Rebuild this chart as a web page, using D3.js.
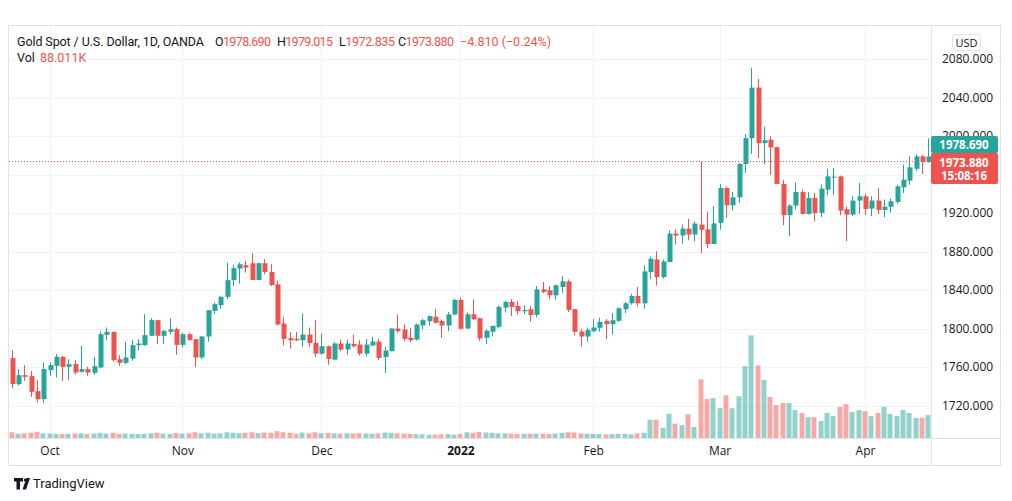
<!DOCTYPE html>
<html><head><meta charset="utf-8">
<script src="https://cdn.jsdelivr.net/npm/d3@7"></script>
<style>
body{margin:0;background:#fff;}
svg{display:block;font-family:"Open Sans","Noto Sans",sans-serif;}
</style>
</head><body>
<svg id="chart" width="1012" height="501"></svg>
<script>
// ---- data (daily bars, Sep 23 2021 .. Apr 14 2022) ----
const opens = [1769.2,1742.2,1751.5,1750.5,1734.9,1726.6,1756.7,1761.2,1770.6,1760.2,1763.0,1755.0,1757.8,1754.0,1759.5,1793.4,1796.5,1768.1,1764.3,1768.8,1782.7,1782.7,1792.4,1808.7,1792.4,1796.5,1799.3,1783.0,1794.1,1788.9,1769.9,1791.7,1818.3,1824.2,1832.9,1850.2,1862.3,1865.7,1867.8,1850.4,1867.8,1858.8,1845.9,1805.2,1789.9,1789.2,1787.8,1793.7,1785.0,1773.9,1781.6,1767.7,1784.4,1778.1,1784.0,1783.3,1773.9,1782.3,1786.4,1770.4,1776.4,1800.0,1799.0,1790.3,1788.5,1803.1,1807.7,1812.2,1807.7,1803.1,1814.6,1829.6,1800.0,1814.8,1810.7,1790.3,1796.6,1801.7,1821.7,1827.6,1823.4,1817.9,1820.0,1814.1,1840.7,1839.7,1834.5,1843.1,1849.0,1820.0,1796.9,1791.7,1797.2,1800.7,1808.0,1804.5,1808.0,1820.0,1826.2,1833.8,1826.2,1858.6,1871.7,1853.4,1869.0,1898.6,1896.6,1903.8,1897.6,1908.0,1903.0,1887.8,1909.7,1946.0,1928.0,1936.3,1970.9,1997.8,2050.3,1992.6,1996.1,1988.5,1950.1,1917.7,1927.7,1941.8,1919.0,1935.6,1920.1,1944.3,1956.7,1958.1,1923.9,1918.3,1932.9,1937.4,1924.6,1932.9,1923.2,1926.5,1931.5,1946.7,1953.6,1966.0,1978.8,1972.9];
const highs = [1777.5,1757.8,1761.9,1755.7,1746.3,1764.7,1764.7,1773.3,1771.6,1768.0,1767.1,1782.0,1760.2,1770.6,1796.9,1801.0,1796.5,1772.3,1786.2,1788.2,1788.9,1814.9,1810.7,1808.7,1798.3,1810.7,1801.0,1795.8,1795.8,1788.9,1792.4,1819.0,1827.0,1834.0,1868.6,1866.1,1868.5,1870.3,1878.3,1868.5,1872.0,1866.8,1849.4,1812.2,1796.2,1796.2,1815.6,1801.0,1809.0,1794.8,1782.3,1785.8,1788.5,1788.5,1793.7,1787.8,1789.2,1791.3,1789.2,1780.9,1800.0,1814.6,1804.2,1800.7,1805.2,1810.1,1813.6,1820.5,1809.4,1817.4,1831.0,1832.0,1816.6,1830.3,1811.4,1799.3,1802.8,1824.1,1828.6,1830.3,1828.6,1824.1,1823.4,1844.1,1848.3,1844.1,1845.9,1854.5,1851.0,1820.7,1799.3,1801.0,1809.7,1811.4,1809.7,1815.9,1821.7,1827.6,1836.2,1843.1,1865.5,1874.5,1880.3,1871.7,1902.1,1902.8,1907.9,1914.1,1911.4,1973.3,1921.4,1927.3,1950.1,1947.7,1941.8,1971.9,2001.9,2071.0,2059.3,2009.9,1999.5,1988.5,1954.6,1929.4,1951.9,1944.3,1941.8,1940.8,1949.4,1966.0,1966.7,1958.8,1927.0,1937.4,1951.2,1939.8,1937.4,1946.0,1934.0,1935.0,1949.4,1970.2,1978.8,1981.2,1980.5,1997.6];
const lows = [1738.0,1740.8,1745.6,1729.0,1723.1,1722.4,1750.8,1749.1,1745.6,1746.3,1752.5,1754.3,1750.8,1752.0,1758.8,1787.9,1765.7,1761.2,1763.0,1766.4,1777.5,1782.0,1792.4,1783.7,1783.7,1794.1,1772.7,1780.3,1787.2,1760.2,1768.1,1786.5,1814.9,1820.8,1830.5,1844.3,1846.6,1858.1,1850.4,1850.4,1856.3,1844.2,1803.1,1782.3,1779.1,1786.8,1780.9,1781.0,1770.4,1772.9,1762.4,1767.0,1776.4,1772.9,1780.2,1771.8,1771.1,1781.6,1767.0,1753.7,1776.4,1795.5,1786.8,1785.7,1787.5,1799.0,1803.1,1805.2,1790.3,1797.2,1813.6,1799.0,1799.3,1809.0,1787.3,1783.8,1791.7,1800.0,1816.6,1813.1,1814.8,1814.8,1806.9,1811.4,1836.6,1830.3,1830.3,1836.6,1817.3,1793.1,1781.4,1786.2,1795.9,1796.6,1789.0,1793.8,1806.9,1815.9,1824.8,1822.8,1820.7,1851.7,1844.8,1851.7,1869.0,1887.2,1888.3,1891.7,1890.7,1878.4,1883.3,1887.8,1902.8,1914.9,1922.8,1930.4,1961.5,1981.6,1977.1,1970.9,1959.8,1950.1,1907.3,1895.9,1923.5,1918.3,1918.3,1911.4,1915.9,1938.4,1938.4,1917.7,1890.7,1916.6,1919.0,1917.7,1916.6,1919.0,1915.6,1920.4,1929.4,1940.8,1949.4,1963.9,1960.5,1972.3];
const closes = [1742.2,1751.5,1749.8,1734.2,1726.6,1757.8,1761.9,1770.6,1760.2,1763.0,1754.3,1757.8,1754.3,1760.9,1794.1,1796.5,1767.1,1764.3,1769.9,1782.7,1784.4,1793.1,1808.7,1792.4,1797.6,1799.3,1783.0,1794.1,1788.2,1769.9,1791.7,1819.0,1825.3,1832.9,1850.2,1862.7,1866.8,1863.3,1850.4,1867.8,1858.8,1845.2,1804.2,1789.2,1787.8,1787.8,1793.7,1785.0,1773.9,1781.6,1768.4,1784.4,1778.1,1784.4,1781.6,1773.9,1783.3,1786.4,1769.4,1777.1,1800.0,1797.2,1789.2,1787.8,1804.2,1808.7,1812.9,1805.9,1803.1,1814.6,1829.6,1799.7,1814.8,1809.7,1789.7,1797.6,1802.8,1822.4,1827.6,1822.4,1817.9,1819.3,1814.1,1840.7,1837.9,1834.5,1844.8,1849.0,1819.3,1796.6,1791.7,1798.6,1801.0,1806.9,1804.5,1808.6,1821.0,1826.2,1833.8,1826.2,1859.3,1872.4,1853.4,1869.7,1898.6,1896.6,1903.8,1897.6,1909.0,1902.5,1887.8,1909.2,1946.0,1928.0,1936.3,1970.9,1997.8,2050.3,1992.6,1995.7,1988.1,1950.1,1917.7,1927.7,1941.8,1919.0,1935.6,1920.1,1945.3,1958.1,1957.7,1922.5,1918.3,1932.9,1937.4,1924.2,1932.9,1923.2,1926.5,1932.2,1947.7,1954.6,1967.4,1978.8,1972.9,1978.7];
const volumes = [22,16,18,20,24,18,17,16,15,16,17,18,15,17,20,17,20,16,17,16,15,16,18,20,17,16,19,17,18,22,18,20,17,18,22,20,18,20,22,19,21,20,26,22,20,16,21,18,22,19,20,18,17,18,17,19,17,16,18,21,20,18,17,16,15,14,12,13,14,15,13,16,22,20,23,21,20,18,18,16,15,16,16,17,16,15,17,20,22,21,17,16,16,15,14,15,16,16,14,18,20,70,70,39,93,55,49,91,42,225,149,153,114,164,114,160,275,393,278,222,157,126,134,134,107,96,80,80,65,96,84,119,130,100,107,103,84,96,119,92,84,107,96,77,77,88];
const monthLabels = ["Oct","Nov","Dec","2022","Feb","Mar","Apr"];
const monthBars = [6,27,49,71,92,112,135];
const priceTicks = [1720,1760,1800,1840,1880,1920,1960,2000,2040,2080];
const hiddenTickLabels = [1960]; // covered by the last-price label in the reference
const lastOpen = 1978.690, lastClose = 1973.880;

// ---- layout ----
const svg = d3.select("#chart");
const pane = {left:9, right:931, top:26, bottom:438};
const grid = "#f0f3fa", border = "#e0e3eb", txt = "#131722";
const up = "#26a69a", dn = "#ef5350";

const x = d3.scaleLinear().domain([6,135]).range([49.5,865]);
const y = d3.scaleLinear().domain([1720,2080]).range([405.5,59]);
const yv = d3.scaleLinear().domain([0,400]).range([438,333.6]);

const defs = svg.append("defs");
defs.append("clipPath").attr("id","clip")
  .append("rect").attr("x",pane.left).attr("y",pane.top)
  .attr("width",pane.right-pane.left).attr("height",pane.bottom-pane.top);
defs.append("clipPath").attr("id","axclip")
  .append("rect").attr("x",932).attr("y",26).attr("width",70).attr("height",110);
defs.append("clipPath").attr("id","axclip2")
  .append("rect").attr("x",932).attr("y",184).attr("width",70).attr("height",254);

// grid
const g = svg.append("g");
g.selectAll(".hg").data(priceTicks).join("line")
  .attr("x1",pane.left).attr("x2",pane.right)
  .attr("y1",d=>Math.round(y(d))+0.5).attr("y2",d=>Math.round(y(d))+0.5)
  .attr("stroke",grid);
g.selectAll(".vg").data(monthBars).join("line")
  .attr("x1",d=>Math.round(x(d))+0.5).attr("x2",d=>Math.round(x(d))+0.5)
  .attr("y1",pane.top).attr("y2",pane.bottom).attr("stroke",grid);

const idx = d3.range(opens.length);
const plot = svg.append("g").attr("clip-path","url(#clip)");

// volume
plot.selectAll(".vol").data(idx).join("rect")
  .attr("x",i=>Math.round(x(i))-2.5).attr("width",5)
  .attr("y",i=>yv(volumes[i])).attr("height",i=>yv(0)-yv(volumes[i]))
  .attr("fill",i=>closes[i]>=opens[i]?"rgba(38,166,154,0.5)":"rgba(239,83,80,0.5)");

// wicks
plot.selectAll(".wick").data(idx).join("line")
  .attr("x1",i=>Math.round(x(i))+0.5).attr("x2",i=>Math.round(x(i))+0.5)
  .attr("y1",i=>y(highs[i])).attr("y2",i=>y(lows[i]))
  .attr("stroke",i=>closes[i]>=opens[i]?up:dn).attr("stroke-width",1);
// bodies
plot.selectAll(".body").data(idx).join("rect")
  .attr("x",i=>Math.round(x(i))-1.5).attr("width",5)
  .attr("y",i=>y(Math.max(opens[i],closes[i])))
  .attr("height",i=>Math.max(1,Math.abs(y(opens[i])-y(closes[i]))))
  .attr("fill",i=>closes[i]>=opens[i]?up:dn);

// last price dotted line
svg.append("line").attr("x1",pane.left).attr("x2",pane.right)
  .attr("y1",Math.round(y(lastClose))+0.5).attr("y2",Math.round(y(lastClose))+0.5)
  .attr("stroke",dn).attr("stroke-dasharray","1,2");

// frame
svg.append("rect").attr("x",8.5).attr("y",25.5).attr("width",992).attr("height",440)
  .attr("fill","none").attr("stroke",border);
svg.append("line").attr("x1",931.5).attr("x2",931.5).attr("y1",25).attr("y2",466).attr("stroke",border);
svg.append("line").attr("x1",8).attr("x2",1001).attr("y1",438.5).attr("y2",438.5).attr("stroke",border);

// price axis (labels above and below the last-price boxes, clipped like the reference)
function priceAxis(vals, clipId){
  const a = svg.append("g").attr("clip-path",`url(#${clipId})`).append("g").attr("transform","translate(938,0)")
    .call(d3.axisRight(y).tickValues(vals).tickFormat(d3.format(".3f")).tickSize(0).tickPadding(4));
  a.select(".domain").remove();
  a.selectAll("text").attr("fill",txt).attr("font-size",12).attr("font-family","'Open Sans',sans-serif");
}
const shown = priceTicks.filter(t=>!hiddenTickLabels.includes(t));
priceAxis(shown.filter(t=>t>=2000), "axclip");
priceAxis(shown.filter(t=>t<1960), "axclip2");

// time axis
const xa = svg.append("g").attr("transform","translate(0,438)")
  .call(d3.axisBottom(x).tickValues(monthBars).tickFormat((d,i)=>monthLabels[i]).tickSize(0).tickPadding(8));
xa.select(".domain").remove();
xa.selectAll("text").attr("fill",txt).attr("font-size",12).attr("font-family","'Open Sans',sans-serif")
  .attr("font-weight",(d,i)=>monthLabels[i]==="2022"?"bold":"normal");

// USD box
svg.append("rect").attr("x",952.5).attr("y",34.5).attr("width",28).attr("height",16).attr("rx",3)
  .attr("fill","#fff").attr("stroke",border);
svg.append("text").attr("x",966.5).attr("y",46.5).attr("text-anchor","middle")
  .attr("font-size",11).attr("fill",txt).text("USD");

// last price labels
svg.append("rect").attr("x",931).attr("y",136).attr("width",67).attr("height",17).attr("rx",2).attr("fill",up);
svg.append("text").attr("x",964).attr("y",148.5).attr("text-anchor","middle").attr("font-size",11.5)
  .attr("font-weight","bold").attr("fill","#fff").text(d3.format(".3f")(lastOpen));
svg.append("rect").attr("x",931).attr("y",153).attr("width",67).attr("height",31).attr("rx",2).attr("fill",dn);
svg.append("text").attr("x",964).attr("y",166.5).attr("text-anchor","middle").attr("font-size",11.5)
  .attr("font-weight","bold").attr("fill","#fff").text(d3.format(".3f")(lastClose));
svg.append("text").attr("x",964).attr("y",180).attr("text-anchor","middle").attr("font-size",11.5)
  .attr("font-weight","bold").attr("fill","#fff").text("15:08:16");

// legend header
const hf = "Roboto, 'Open Sans', sans-serif";
svg.append("text").attr("x",17).attr("y",46).attr("font-size",12.5).attr("font-family",hf).attr("fill",txt)
  .attr("textLength",187).attr("lengthAdjust","spacing")
  .text("Gold Spot / U.S. Dollar, 1D, OANDA");
const vals = [["O","1978.690",215],["H","1979.015",277],["L","1972.835",339],["C","1973.880",398]];
vals.forEach(v=>{
  const t = svg.append("text").attr("x",v[2]).attr("y",46).attr("font-size",12.5).attr("font-family",hf).attr("fill",txt)
    .attr("textLength",56).attr("lengthAdjust","spacing");
  t.append("tspan").text(v[0]);
  t.append("tspan").attr("fill",dn).text(v[1]);
});
svg.append("text").attr("x",460).attr("y",46).attr("font-size",12.5).attr("font-family",hf).attr("fill",dn)
  .attr("textLength",91).attr("lengthAdjust","spacing")
  .text("\u22124.810 (\u22120.24%)");
svg.append("text").attr("x",17).attr("y",62).attr("font-size",12.5).attr("font-family",hf).attr("fill",txt).text("Vol");
svg.append("text").attr("x",40).attr("y",62).attr("font-size",12.5).attr("font-family",hf).attr("fill",dn).text("88.011K");

// TradingView logo
const logo = svg.append("g").attr("fill",txt);
logo.append("path").attr("d","M14 478h9v3.5h-3v8h-3.5v-8H14z");
logo.append("circle").attr("cx",25.3).attr("cy",480).attr("r",1.6);
logo.append("path").attr("d","M26.5 478h3.5l-4 11.5h-3.5z");
svg.append("text").attr("x",33).attr("y",488).attr("font-size",13).attr("font-family",hf).attr("fill",txt).text("TradingView");
</script>
</body></html>
